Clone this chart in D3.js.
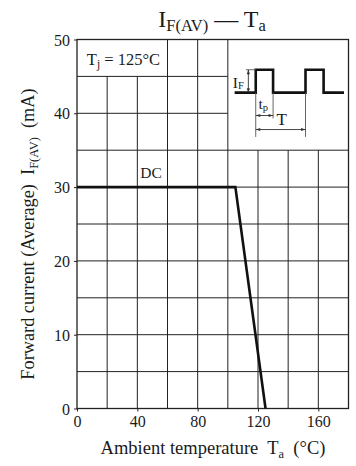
<!DOCTYPE html>
<html><head><meta charset="utf-8">
<script src="https://cdn.jsdelivr.net/npm/d3@7"></script>
<style>
body{margin:0;background:#fff;}
svg{display:block;font-family:"Liberation Serif","Times New Roman",serif;}
text{white-space:pre;}
</style></head>
<body>
<svg id="c" width="356" height="466"></svg>
<script>
// ---- data ----
const xTicks = [0, 40, 80, 120, 160];
const yTicks = [0, 10, 20, 30, 40, 50];
const gridX = [20, 40, 60, 80, 100, 120, 140, 160];
const gridY = [5, 10, 15, 20, 25, 30, 35, 40, 45];
const curveTa = [0, 105, 125];
const curveIf = [30, 30, 0];
// blank boxes (legend / inset), in data units
const boxes = [
  {x0: 0, x1: 60, y0: 45, y1: 50},
  {x0: 100, x1: 180, y0: 35, y1: 50}
];
// inset pulse waveform (schematic), data units
const waveX = [104.5, 118.5, 118.5, 130, 130, 151.5, 151.5, 163.5, 163.5, 177];
const waveY = [42.8, 42.8, 45.9, 45.9, 42.8, 42.8, 45.9, 45.9, 42.8, 42.8];

const svg = d3.select("#c");
const L = 77, R = 348.5, T = 39.5, B = 408.5;
const x = d3.scaleLinear().domain([0, 180]).range([L, R]);
const y = d3.scaleLinear().domain([0, 50]).range([B, T]);
const INK = "#1a1a1a";

const defs = svg.append("defs");
defs.append("marker").attr("id","ah").attr("viewBox","0 0 10 10").attr("refX",10).attr("refY",5)
  .attr("markerWidth",6).attr("markerHeight",5).attr("orient","auto-start-reverse")
  .append("path").attr("d","M0,1.5L10,5L0,8.5Z").attr("fill","#333");

// grid
const g = svg.append("g");
gridX.forEach(gx => {
  let top = 50;
  boxes.forEach(b => { if (gx > b.x0 && gx < b.x1) top = Math.min(top, b.y0); });
  g.append("line").attr("x1", x(gx)).attr("x2", x(gx)).attr("y1", y(0)).attr("y2", y(top))
    .attr("stroke", "#222").attr("stroke-width", 1);
});
gridY.forEach(gy => {
  let lo = 0, hi = 180;
  boxes.forEach(b => {
    if (gy > b.y0 && gy < b.y1) {
      if (b.x0 === 0) lo = Math.max(lo, b.x1); else hi = Math.min(hi, b.x0);
    }
  });
  g.append("line").attr("x1", x(lo)).attr("x2", x(hi)).attr("y1", y(gy)).attr("y2", y(gy))
    .attr("stroke", "#222").attr("stroke-width", 1);
});

// axes
const ax = svg.append("g").attr("transform", `translate(0,${B})`)
  .call(d3.axisBottom(x).tickValues(xTicks).tickSize(3).tickPadding(4).tickFormat(d3.format("d")));
const ay = svg.append("g").attr("transform", `translate(${L},0)`)
  .call(d3.axisLeft(y).tickValues(yTicks).tickSize(3).tickPadding(4).tickFormat(d3.format("d")));
[ax, ay].forEach(a => {
  a.select(".domain").remove();
  a.selectAll("text").attr("font-family", "Liberation Serif").attr("font-size", 16).attr("fill", INK);
  a.selectAll("line").attr("stroke", "#222");
});
ay.selectAll("text").attr("dy", "0.35em");

// frame
svg.append("rect").attr("x", L).attr("y", T).attr("width", R - L).attr("height", B - T)
  .attr("fill", "none").attr("stroke", "#222").attr("stroke-width", 1.3);

// curve
const pts = curveTa.map((t, i) => [x(t), y(curveIf[i])]);
svg.append("path").attr("d", d3.line()(pts)).attr("fill", "none")
  .attr("stroke", "#111").attr("stroke-width", 2.6).attr("stroke-linejoin", "miter");

// DC label
svg.append("text").attr("x", x(42)).attr("y", y(31.3)).attr("font-size", 15.5).attr("fill", INK).text("DC");

// Tj label
const tj = svg.append("text").attr("x", x(6.5)).attr("y", y(46.6)).attr("font-size", 16.5).attr("fill", INK);
tj.append("tspan").text("T");
tj.append("tspan").attr("font-size", 11.5).attr("dy", 3).text("j");
tj.append("tspan").attr("dy", -3).text(" = 125°C");

// inset waveform
const wpts = waveX.map((v, i) => [x(v), y(waveY[i])]);
const ink = svg.append("g");
ink.append("path").attr("d", d3.line()(wpts)).attr("fill", "none").attr("stroke", "#111").attr("stroke-width", 2.6);
const thin = (x1, y1, x2, y2) => ink.append("line").attr("x1", x(x1)).attr("y1", y(y1)).attr("x2", x(x2)).attr("y2", y(y2))
  .attr("stroke", "#555").attr("stroke-width", 0.9);
// IF dimension
thin(112, 45.9, 118.5, 45.9);
ink.append("line").attr("x1", x(113.6)).attr("x2", x(113.6)).attr("y1", y(45.9)).attr("y2", y(42.8))
  .attr("stroke", "#333").attr("stroke-width", 0.9).attr("marker-start", "url(#ah)").attr("marker-end", "url(#ah)");
const ifl = ink.append("text").attr("x", x(103.3)).attr("y", y(43.4)).attr("font-size", 15.5).attr("fill", INK);
ifl.append("tspan").text("I");
ifl.append("tspan").attr("font-size", 10.5).attr("dy", 1).text("F");
// extension lines
thin(118.5, 42.8, 118.5, 36.8);
thin(130, 42.8, 130, 39.3);
thin(151.5, 42.8, 151.5, 36.8);
// tp arrow
ink.append("line").attr("x1", x(118.5)).attr("x2", x(130)).attr("y1", y(39.7)).attr("y2", y(39.7))
  .attr("stroke", "#333").attr("stroke-width", 0.9).attr("marker-start", "url(#ah)").attr("marker-end", "url(#ah)");
const tpl = ink.append("text").attr("x", x(120.3)).attr("y", y(40.6)).attr("font-size", 15.5).attr("fill", INK);
tpl.append("tspan").text("t");
tpl.append("tspan").attr("font-size", 10.5).attr("dy", 2).text("p");
// T arrow
ink.append("line").attr("x1", x(118.5)).attr("x2", x(151.5)).attr("y1", y(37.8)).attr("y2", y(37.8))
  .attr("stroke", "#333").attr("stroke-width", 0.9).attr("marker-start", "url(#ah)").attr("marker-end", "url(#ah)");
ink.append("text").attr("x", x(132.3)).attr("y", y(38.4)).attr("font-size", 17).attr("fill", INK).text("T");

// title
const tt = svg.append("text").attr("x", 212).attr("y", 27).attr("text-anchor", "middle")
  .attr("font-size", 24).attr("fill", INK);
tt.append("tspan").text("I");
tt.append("tspan").attr("font-size", 16.5).attr("dy", 4).text("F(AV)");
tt.append("tspan").attr("dy", -4).text(" — T");
tt.append("tspan").attr("font-size", 16.5).attr("dy", 4).text("a");

// x label
const xl = svg.append("text").attr("x", 213).attr("y", 454).attr("text-anchor", "middle")
  .attr("font-size", 18.5).attr("fill", INK);
xl.append("tspan").text("Ambient temperature  T");
xl.append("tspan").attr("font-size", 12.5).attr("dy", 4).text("a");
xl.append("tspan").attr("dy", -4).text("  (°C)");

// y label
const yl = svg.append("text").attr("transform", "translate(34,234) rotate(-90)").attr("text-anchor", "middle")
  .attr("font-size", 18.3).attr("fill", INK);
yl.append("tspan").text("Forward current (Average)  I");
yl.append("tspan").attr("font-size", 12.5).attr("dy", 4).text("F(AV)");
yl.append("tspan").attr("dy", -4).text("  (mA)");
</script>
</body></html>
